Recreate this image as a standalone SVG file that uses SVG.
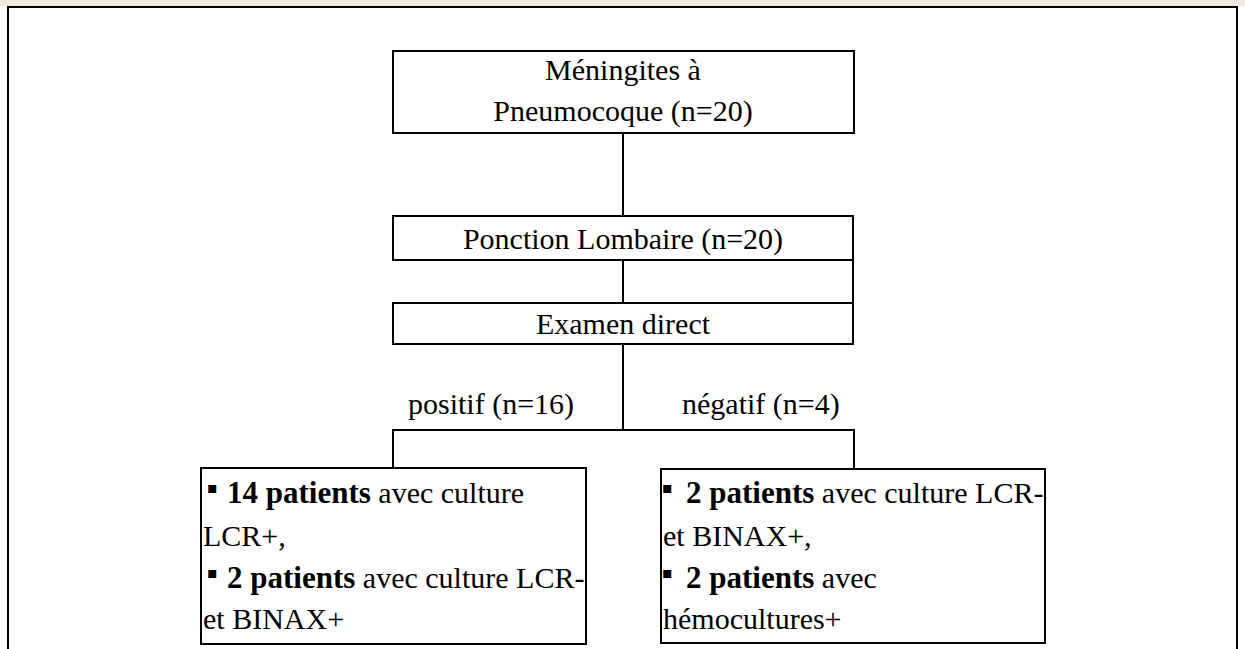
<svg xmlns="http://www.w3.org/2000/svg" width="1245" height="649" viewBox="0 0 1245 649">
  <style>
    .box { fill: #ffffff; stroke: #000000; stroke-width: 2; }
    .wire { fill: none; stroke: #000000; stroke-width: 2; }
    .frame { fill: none; stroke: #000000; stroke-width: 2; }
    .t { font-family: "Liberation Serif", "Times New Roman", serif; font-size: 30px; fill: #000000; }
    .c { text-anchor: middle; }
    .b { font-weight: bold; font-size: 31px; }
    .dot { font-family: "DejaVu Sans", sans-serif; font-size: 16px; }
  </style>

  <!-- page frame -->
  <rect x="0" y="0" width="1245" height="6" fill="#eceae0"/>
  <g id="frame">
    <line class="frame" x1="7" y1="7" x2="1238" y2="7"/>
    <line class="frame" x1="8" y1="7" x2="8" y2="649"/>
    <line class="frame" x1="1237" y1="7" x2="1237" y2="649"/>
  </g>

  <!-- connectors -->
  <g id="connectors">
    <line class="wire" x1="623" y1="133" x2="623" y2="216"/>
    <line class="wire" x1="623" y1="260" x2="623" y2="303"/>
    <line class="wire" x1="853" y1="260" x2="853" y2="303"/>
    <line class="wire" x1="623" y1="344" x2="623" y2="430"/>
    <polyline class="wire" points="393,468 393,430 854,430 854,469"/>
    <text class="t" x="408" y="414">positif (n=16)</text>
    <text class="t" x="682" y="414">négatif (n=4)</text>
  </g>

  <g id="node-meningites">
    <rect class="box" x="393" y="51" width="461" height="82"/>
    <text class="t c" x="623" y="80">Méningites à</text>
    <text class="t c" x="623" y="121">Pneumocoque (n=20)</text>
  </g>

  <g id="node-ponction">
    <rect class="box" x="393" y="216" width="460" height="44"/>
    <text class="t c" x="623" y="249">Ponction Lombaire (n=20)</text>
  </g>

  <g id="node-examen">
    <rect class="box" x="393" y="303" width="460" height="41"/>
    <text class="t c" x="623" y="334">Examen direct</text>
  </g>

  <g id="node-positif">
    <rect class="box" x="201" y="468" width="385" height="176"/>
    <text class="t" x="203" y="503"><tspan class="dot" x="207" dy="-10">▪</tspan><tspan class="b" x="227" dy="10">14 patients</tspan> avec culture</text>
    <text class="t" x="203" y="546">LCR+,</text>
    <text class="t" x="203" y="588"><tspan class="dot" x="207" dy="-10">▪</tspan><tspan class="b" x="227" dy="10">2 patients</tspan> avec culture LCR-</text>
    <text class="t" x="203" y="629">et BINAX+</text>
  </g>

  <g id="node-negatif">
    <rect class="box" x="661" y="469" width="384" height="174"/>
    <text class="t" x="663" y="503"><tspan class="dot" x="662" dy="-10">▪</tspan><tspan class="b" x="686" dy="10">2 patients</tspan> avec culture LCR-</text>
    <text class="t" x="663" y="546">et BINAX+,</text>
    <text class="t" x="663" y="588"><tspan class="dot" x="662" dy="-10">▪</tspan><tspan class="b" x="686" dy="10">2 patients</tspan> avec</text>
    <text class="t" x="663" y="629">hémocultures+</text>
  </g>
</svg>
